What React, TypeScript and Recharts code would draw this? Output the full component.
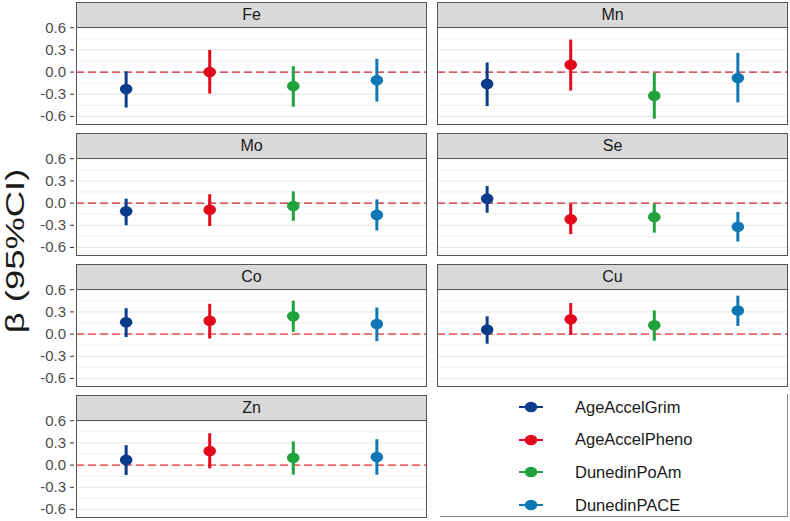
import React from 'react';
import { ScatterChart, Scatter, XAxis, YAxis, ErrorBar, ReferenceLine } from 'recharts';

const metrics = ['AgeAccelGrim', 'AgeAccelPheno', 'DunedinPoAm', 'DunedinPACE'];
const colors = ['#0b3c8c', '#e4081c', '#20a23c', '#0f78b4'];

const yTicks = [-0.6, -0.3, 0, 0.3, 0.6];
const yMinor = [-0.45, -0.15, 0.15, 0.45];

// beta estimates with 95% CI, one value per metric
const feBeta = [-0.23, 0.0, -0.19, -0.11];
const feLow = [-0.48, -0.29, -0.47, -0.4];
const feHigh = [0.01, 0.3, 0.08, 0.18];

const mnBeta = [-0.16, 0.1, -0.32, -0.08];
const mnLow = [-0.46, -0.25, -0.63, -0.41];
const mnHigh = [0.13, 0.44, -0.01, 0.26];

const moBeta = [-0.11, -0.09, -0.04, -0.16];
const moLow = [-0.3, -0.31, -0.24, -0.37];
const moHigh = [0.06, 0.12, 0.16, 0.05];

const seBeta = [0.06, -0.22, -0.19, -0.32];
const seLow = [-0.13, -0.42, -0.4, -0.52];
const seHigh = [0.23, -0.01, -0.01, -0.12];

const coBeta = [0.16, 0.18, 0.24, 0.135];
const coLow = [-0.04, -0.06, 0.03, -0.095];
const coHigh = [0.35, 0.41, 0.45, 0.36];

const cuBeta = [0.06, 0.2, 0.12, 0.32];
const cuLow = [-0.13, -0.01, -0.09, 0.11];
const cuHigh = [0.24, 0.42, 0.32, 0.52];

const znBeta = [0.07, 0.19, 0.1, 0.11];
const znLow = [-0.135, -0.045, -0.13, -0.13];
const znHigh = [0.27, 0.43, 0.32, 0.35];

const panels = [
  { name: 'Fe', beta: feBeta, low: feLow, high: feHigh },
  { name: 'Mn', beta: mnBeta, low: mnLow, high: mnHigh },
  { name: 'Mo', beta: moBeta, low: moLow, high: moHigh },
  { name: 'Se', beta: seBeta, low: seLow, high: seHigh },
  { name: 'Co', beta: coBeta, low: coLow, high: coHigh },
  { name: 'Cu', beta: cuBeta, low: cuLow, high: cuHigh },
  { name: 'Zn', beta: znBeta, low: znLow, high: znHigh },
];

const FONT = '"Liberation Sans", Arial, Helvetica, sans-serif';
const PANEL_W = 351;
const PLOT_H = 98;
const AXIS_W = 76;
const PAD = 10;

const YTick = (props: any) => {
  const { x, y, payload } = props;
  return (
    <g>
      <line x1={x + 1} y1={y} x2={x + 5} y2={y} stroke="#333" strokeWidth={1} />
      <text x={x - 3} y={y} dy={5} textAnchor="end" fill="#4d4d4d" fontSize={15} fontFamily={FONT}>
        {Number(payload.value).toFixed(1)}
      </text>
    </g>
  );
};

interface PanelProps {
  name: string;
  beta: number[];
  low: number[];
  high: number[];
  col: number;
  row: number;
}

const Panel = ({ name, beta, low, high, col, row }: PanelProps) => {
  const left = col === 0 ? 76 : 437;
  const top = 2 + row * 131;
  const axisW = col === 0 ? AXIS_W : 0;
  const dash = row < 2 ? '#cf2a33' : '#ee6a6a';

  return (
    <>
      <div
        style={{
          position: 'absolute',
          left,
          top,
          width: PANEL_W,
          height: 26,
          boxSizing: 'border-box',
          background: '#d9d9d9',
          border: '1px solid #555',
          textAlign: 'center',
          lineHeight: '24px',
          fontSize: 16,
          color: '#1a1a1a',
        }}
      >
        {name}
      </div>
      <div style={{ position: 'absolute', left: left - axisW, top: top + 25 - PAD }}>
        <ScatterChart width={PANEL_W + axisW} height={PLOT_H + 2 * PAD} margin={{ top: PAD, right: 0, bottom: PAD, left: 0 }}>
          <XAxis type="number" dataKey="x" domain={[0.4, 4.6]} hide />
          <YAxis
            type="number"
            dataKey="y"
            domain={[-0.716, 0.61]}
            ticks={yTicks}
            allowDataOverflow
            hide={col !== 0}
            width={axisW}
            axisLine={false}
            tickLine={false}
            tickSize={5}
            tick={<YTick />}
            interval={0}
          />
          {yMinor.map((v) => (
            <ReferenceLine key={'m' + v} y={v} stroke="#f0f0f0" strokeWidth={1} />
          ))}
          {yTicks.map((v) => (
            <ReferenceLine key={'M' + v} y={v} stroke="#e6e6e6" strokeWidth={1} />
          ))}
          <ReferenceLine y={0} stroke={dash} strokeWidth={row < 2 ? 1.3 : 1.8} strokeDasharray="8 4" />
          {metrics.map((m, i) => (
            <Scatter
              key={m}
              name={m}
              data={[{ x: i + 1, y: beta[i], err: [beta[i] - low[i], high[i] - beta[i]] }]}
              fill={colors[i]}
              isAnimationActive={false}
              shape={(p: any) => <ellipse cx={p.cx} cy={p.cy} rx={6.3} ry={5.3} fill={colors[i]} />}
            >
              <ErrorBar dataKey="err" direction="y" width={0} stroke={colors[i]} strokeWidth={3} isAnimationActive={false} />
            </Scatter>
          ))}
        </ScatterChart>
      </div>
      <div
        style={{
          position: 'absolute',
          left,
          top: top + 25,
          width: PANEL_W,
          height: PLOT_H,
          boxSizing: 'border-box',
          border: '1px solid #555',
          pointerEvents: 'none',
        }}
      />
    </>
  );
};

const LegendBox = () => (
  <div
    style={{
      position: 'absolute',
      left: 440,
      top: 394,
      width: 348,
      height: 123,
      boxSizing: 'border-box',
      borderRight: '1px solid #8a8a8a',
      borderBottom: '1px solid #8a8a8a',
    }}
  >
    {metrics.map((m, i) => (
      <div
        key={m}
        style={{ position: 'absolute', left: 78, top: 0 + i * 32.7, height: 26, display: 'flex', alignItems: 'center' }}
      >
        <svg width={26} height={14} style={{ display: 'block' }}>
          <line x1={1} y1={7} x2={25} y2={7} stroke={colors[i]} strokeWidth={2} />
          <ellipse cx={13} cy={7} rx={6.3} ry={5.3} fill={colors[i]} />
        </svg>
        <span style={{ marginLeft: 31, fontSize: 16.5, color: '#1a1a1a', whiteSpace: 'nowrap' }}>{m}</span>
      </div>
    ))}
  </div>
);

export default function App() {
  return (
    <div style={{ position: 'absolute', left: 0, top: 0, width: 790, height: 521, background: '#fff', fontFamily: FONT }}>
      <div
        style={{
          position: 'absolute',
          left: 15,
          top: 251,
          transform: 'translate(-50%, -50%) rotate(-90deg) scaleX(1.4)',
          fontSize: 26,
          color: '#1a1a1a',
          whiteSpace: 'nowrap',
        }}
      >
        β (95%CI)
      </div>
      {panels.map((p, k) => (
        <Panel key={p.name} {...p} col={k % 2} row={Math.floor(k / 2)} />
      ))}
      <LegendBox />
    </div>
  );
}
